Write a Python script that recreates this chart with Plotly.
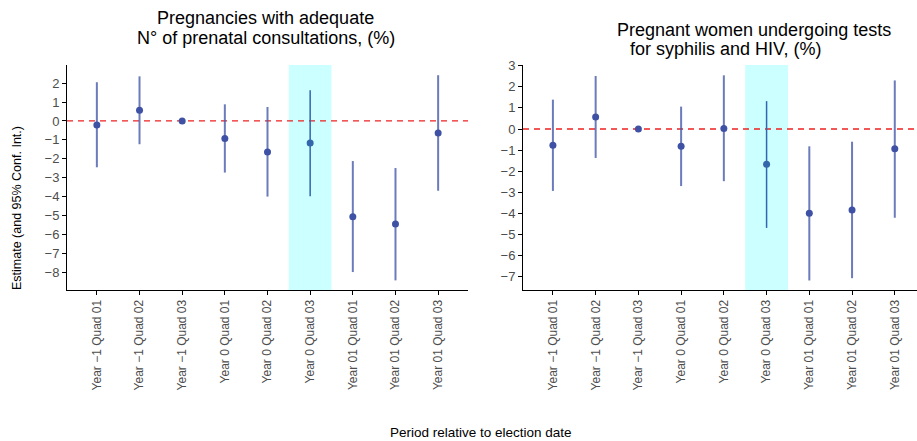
import plotly.graph_objects as go

periods = ["Year \u22121 Quad 01", "Year \u22121 Quad 02", "Year \u22121 Quad 03",
           "Year 0 Quad 01", "Year 0 Quad 02", "Year 0 Quad 03",
           "Year 01 Quad 01", "Year 01 Quad 02", "Year 01 Quad 03"]

# Panel 1: adequate number of prenatal consultations
est_consult = [-0.21, 0.57, 0.0, -0.93, -1.64, -1.16, -5.06, -5.45, -0.63]
lo_consult = [-2.45, -1.23, 0.0, -2.73, -4.00, -3.98, -7.99, -8.43, -3.69]
hi_consult = [2.05, 2.36, 0.0, 0.88, 0.74, 1.62, -2.12, -2.49, 2.42]

# Panel 2: tests for syphilis and HIV
est_tests = [-0.77, 0.57, 0.0, -0.82, 0.03, -1.67, -3.99, -3.83, -0.93]
lo_tests = [-2.93, -1.37, 0.0, -2.70, -2.47, -4.68, -7.17, -7.06, -4.20]
hi_tests = [1.39, 2.51, 0.0, 1.06, 2.54, 1.32, -0.82, -0.60, 2.30]

highlight = "Year 0 Quad 03"

titles = ["Pregnancies with adequate", "N\u00b0 of prenatal consultations, (%)",
          "Pregnant women undergoing tests", "for syphilis and HIV, (%)"]

W, H = 917, 441
FONT = "Liberation Sans, Arial, sans-serif"
xpos = list(range(1, len(periods) + 1))
hi_idx = periods.index(highlight)

fig = go.Figure()

def add_panel(est, lo, hi, xa, ya):
    idx = [i for i in range(len(periods)) if i != hi_idx]
    fig.add_trace(go.Scatter(
        x=[xpos[i] for i in idx], y=[est[i] for i in idx], mode="markers",
        marker=dict(color="#3f51a5", size=7),
        error_y=dict(type="data", symmetric=False,
                     array=[hi[i] - est[i] for i in idx],
                     arrayminus=[est[i] - lo[i] for i in idx],
                     color="rgba(70,90,170,0.8)", thickness=2, width=0),
        xaxis=xa, yaxis=ya, showlegend=False, hoverinfo="x+y"))
    fig.add_trace(go.Scatter(
        x=[xpos[hi_idx]], y=[est[hi_idx]], mode="markers",
        marker=dict(color="#3366aa", size=7),
        error_y=dict(type="data", symmetric=False,
                     array=[hi[hi_idx] - est[hi_idx]],
                     arrayminus=[est[hi_idx] - lo[hi_idx]],
                     color="#3366b0", thickness=1.5, width=0),
        xaxis=xa, yaxis=ya, showlegend=False, hoverinfo="x+y"))

add_panel(est_consult, lo_consult, hi_consult, "x", "y")
add_panel(est_tests, lo_tests, hi_tests, "x2", "y2")

shapes = []
for xr, yr in [("x", "y"), ("x2", "y2")]:
    shapes.append(dict(type="rect", xref=xr, yref=yr + " domain",
                       x0=hi_idx + 0.5, x1=hi_idx + 1.5, y0=0, y1=1,
                       fillcolor="#ccffff", line=dict(width=0), layer="below"))
    shapes.append(dict(type="line", xref=xr + " domain", yref=yr,
                       x0=0, x1=1, y0=0, y1=0,
                       line=dict(color="#ee2222", width=1.3, dash="6px,5px"), layer="below"))

ydom = [1 - 290 / H, 1 - 65 / H]
common_x = dict(tickmode="array", tickvals=xpos, ticktext=periods, tickangle=-90,
                showline=True, linecolor="black", linewidth=1, ticks="outside",
                ticklen=4, tickcolor="black", showgrid=False, zeroline=False,
                automargin=False,
                tickfont=dict(family=FONT, size=12, color="#4d4d4d"))
common_y = dict(showline=True, linecolor="black", linewidth=1, ticks="outside",
                ticklen=4, tickcolor="black", showgrid=False, zeroline=False,
                automargin=False,
                tickfont=dict(family=FONT, size=13, color="#4d4d4d"), dtick=1,
                domain=ydom)

fig.update_layout(
    width=W, height=H, margin=dict(l=0, r=0, t=0, b=0, autoexpand=False),
    paper_bgcolor="white", plot_bgcolor="white",
    xaxis=dict(domain=[67 / W, 468 / W], range=[0.3, 9.7], anchor="y", **common_x),
    yaxis=dict(range=[-8.94, 2.96], anchor="x", **common_y),
    xaxis2=dict(domain=[523 / W, 1.0], range=[0.3, 9.52], anchor="y2", **common_x),
    yaxis2=dict(range=[-7.62, 3.03], anchor="x2", **common_y),
    shapes=shapes,
    annotations=[
        dict(text=titles[0], x=265 / W, y=1 - 18 / H, xref="paper", yref="paper",
             showarrow=False, xanchor="center", yanchor="middle",
             font=dict(family=FONT, size=18, color="black")),
        dict(text=titles[1], x=266 / W, y=1 - 38 / H, xref="paper", yref="paper",
             showarrow=False, xanchor="center", yanchor="middle",
             font=dict(family=FONT, size=18, color="black")),
        dict(text=titles[2], x=754 / W, y=1 - 30 / H, xref="paper", yref="paper",
             showarrow=False, xanchor="center", yanchor="middle",
             font=dict(family=FONT, size=18, color="black")),
        dict(text=titles[3], x=628 / W, y=1 - 49 / H, xref="paper", yref="paper",
             showarrow=False, xanchor="left", yanchor="middle",
             font=dict(family=FONT, size=18, color="black")),
        dict(text="Period relative to election date", x=481 / W, y=1 - 432 / H,
             xref="paper", yref="paper", showarrow=False, xanchor="center",
             yanchor="middle", font=dict(family=FONT, size=13.5, color="black")),
        dict(text="Estimate (and 95% Conf. Int.)", x=17 / W, y=1 - 208 / H,
             xref="paper", yref="paper", showarrow=False, textangle=-90,
             xanchor="center", yanchor="middle",
             font=dict(family=FONT, size=12.5, color="black")),
    ],
)

fig.write_html("out.html")
